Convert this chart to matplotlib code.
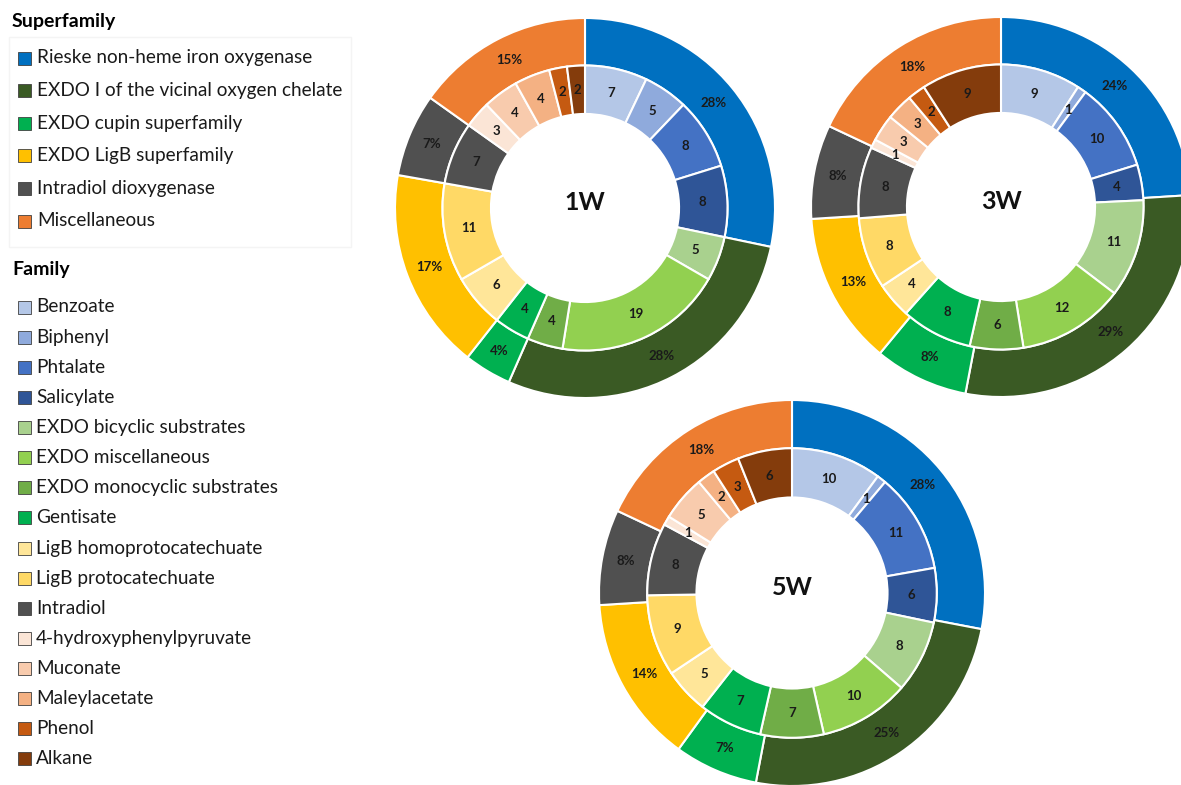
import numpy as np
import matplotlib
matplotlib.use("Agg")
import matplotlib.pyplot as plt
import matplotlib.patches as mpatches

plt.rcParams['font.family'] = ['Lato', 'DejaVu Sans']

W, H = 1181, 785

# superfamilies (outer ring) and families (inner ring)
superfamilies = ['Rieske non-heme iron oxygenase', 'EXDO I of the vicinal oxygen chelate',
                 'EXDO cupin superfamily', 'EXDO LigB superfamily',
                 'Intradiol dioxygenase', 'Miscellaneous']
super_colors = ['#0070C0', '#3A5A24', '#00B050', '#FFC000', '#505050', '#ED7D31']

families = ['Benzoate', 'Biphenyl', 'Phtalate', 'Salicylate',
            'EXDO bicyclic substrates', 'EXDO miscellaneous', 'EXDO monocyclic substrates',
            'Gentisate', 'LigB homoprotocatechuate', 'LigB protocatechuate', 'Intradiol',
            '4-hydroxyphenylpyruvate', 'Muconate', 'Maleylacetate', 'Phenol', 'Alkane']
family_colors = ['#B4C7E7', '#8FAADC', '#4472C4', '#2F5597',
                 '#A9D18E', '#92D050', '#70AD47',
                 '#00B050', '#FFE699', '#FFD966', '#505050',
                 '#FBE5D6', '#F8CBAD', '#F4B183', '#C55A11', '#843C0C']

# sampling weeks
weeks = ['1W', '3W', '5W']
super_pct = {
    '1W': [28, 28, 4, 17, 7, 15],
    '3W': [24, 29, 8, 13, 8, 18],
    '5W': [28, 25, 7, 14, 8, 18],
}
# inner ring counts, same order as families (clockwise from 12 o'clock)
family_counts = {
    '1W': [7, 5, 8, 8, 5, 19, 4, 4, 6, 11, 7, 3, 4, 4, 2, 2],
    '3W': [9, 1, 10, 4, 11, 12, 6, 8, 4, 8, 8, 1, 3, 3, 2, 9],
    '5W': [10, 1, 11, 6, 8, 10, 7, 7, 5, 9, 8, 1, 5, 2, 3, 6],
}
# centre (px) and radius (px) of each donut
donut_pos = {'1W': (585, 208, 190), '3W': (1001, 207, 190), '5W': (792, 593, 193)}

fig = plt.figure(figsize=(W / 100, H / 100), dpi=100)
fig.patch.set_facecolor('white')

# overlay in pixel coordinates for the legend
lg = fig.add_axes([0, 0, 1, 1])
lg.set_xlim(0, W)
lg.set_ylim(H, 0)
lg.axis('off')

lg.add_patch(mpatches.Rectangle((9, 37), 342, 210, facecolor='none',
                                edgecolor='#F4F4F4', lw=1))
lg.text(12, 22, 'Superfamily', fontsize=14, fontweight='bold', va='center', ha='left')
for i, (name, col) in enumerate(zip(superfamilies, super_colors)):
    y = 58 + i * 32.6
    lg.add_patch(mpatches.Rectangle((18, y - 6.5), 13, 13, facecolor=col,
                                    edgecolor='#404040', lw=0.6))
    lg.text(37, y, name, fontsize=13.7, va='center', ha='left', color='#1a1a1a')

lg.text(12, 270, 'Family', fontsize=14, fontweight='bold', va='center', ha='left')
for i, (name, col) in enumerate(zip(families, family_colors)):
    y = 307 + i * 30.13
    lg.add_patch(mpatches.Rectangle((18, y - 6.5), 13, 13, facecolor=col,
                                    edgecolor='#404040', lw=0.6))
    lg.text(36, y, name, fontsize=13.7, va='center', ha='left', color='#1a1a1a')


def label_ring(ax, wedges, texts, r):
    for w, t in zip(wedges, texts):
        mid = np.deg2rad((w.theta1 + w.theta2) / 2)
        ax.text(r * np.cos(mid), r * np.sin(mid), t, ha='center', va='center',
                fontsize=9.5, fontweight='bold', color='#1a1a1a')


for wk in weeks:
    cx, cy, r = donut_pos[wk]
    ax = fig.add_axes([(cx - r) / W, 1 - (cy + r) / H, 2 * r / W, 2 * r / H])
    outer, _ = ax.pie(super_pct[wk], radius=1.0, startangle=90, counterclock=False,
                      colors=super_colors,
                      wedgeprops=dict(width=0.25, edgecolor='white', linewidth=1.5))
    inner, _ = ax.pie(family_counts[wk], radius=0.75, startangle=90, counterclock=False,
                      colors=family_colors,
                      wedgeprops=dict(width=0.255, edgecolor='white', linewidth=1.5))
    label_ring(ax, outer, ['%d%%' % v for v in super_pct[wk]], 0.875)
    label_ring(ax, inner, [str(v) for v in family_counts[wk]], 0.62)
    ax.text(0, 0.03, wk, ha='center', va='center', fontsize=18, fontweight='bold',
            color='#111111')
    ax.set_xlim(-1, 1)
    ax.set_ylim(-1, 1)

fig.savefig('out.png', dpi=100)
